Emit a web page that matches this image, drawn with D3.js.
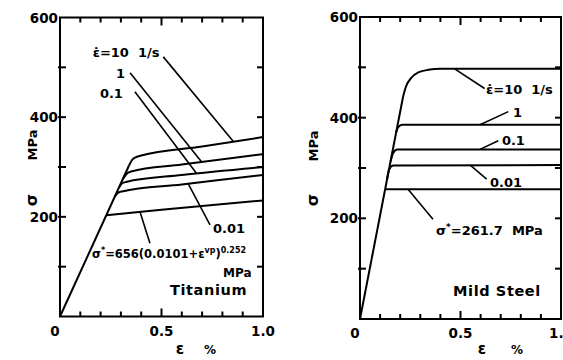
<!DOCTYPE html>
<html>
<head>
<meta charset="utf-8">
<script src="https://cdn.jsdelivr.net/npm/d3@7"></script>
<style>
	body { margin: 0; background: #fff; }
	svg text { font-family: 'DejaVu Sans', sans-serif; font-weight: bold; fill: #000; }
</style>
</head>
<body>
<svg id="chart" width="563" height="360"></svg>
<script>
// strain in %, stress in MPa
const strainTicks = [0, 0.5, 1.0];
const strainTickLabels = ['0', '0.5', '1.0'];
const minorStrain = [0.1, 0.2, 0.3, 0.4, 0.6, 0.7, 0.8, 0.9];
const stressTicks = [100, 200, 300, 400, 500];
const stressLabels = [200, 400, 600];

// Titanium
const tiElastic = [[0, 0], [0.34, 303]];
const tiStatic = [[0.228, 203], [0.5, 214], [1.0, 233]];
const ti001 = [[0.271, 241], [0.285, 248], [0.305, 251], [0.6, 265], [1.0, 284]];
const ti01 = [[0.292, 260], [0.305, 267], [0.325, 270], [0.6, 284], [1.0, 300]];
const ti1 = [[0.31, 276], [0.325, 285], [0.35, 291], [0.6, 305], [1.0, 326]];
const ti10 = [[0.34, 303], [0.355, 314], [0.375, 320], [0.4, 323], [0.7, 341], [1.0, 360]];

// Mild steel
const msElastic = [[0, 0], [0.215, 443]];
const msStatic = [[0.124, 258], [1.0, 258]];
const ms001 = [[0.134, 276], [0.145, 297], [0.165, 305], [1.0, 306]];
const ms01 = [[0.152, 313], [0.165, 330], [0.185, 337], [1.0, 337]];
const ms1 = [[0.18, 371], [0.19, 381], [0.21, 386], [1.0, 386]];
const ms10 = [[0.215, 443], [0.23, 463], [0.255, 479], [0.29, 490], [0.34, 495], [0.4, 497], [1.0, 497]];

const rateLabels = ['1', '0.1', '0.01'];

const svg = d3.select('#chart');

// pointer layout: from point on curve, to near the label, label anchor
const tiNotes = [
	{ text: 'rate', from: [0.854, 351], to: [0.509, 521], at: [0.49, 521], anchor: 'end' },
	{ text: rateLabels[0], from: [0.698, 310], to: [0.345, 489], at: [0.32, 479], anchor: 'end' },
	{ text: rateLabels[1], from: [0.673, 287], to: [0.369, 451], at: [0.31, 439], anchor: 'end' },
	{ text: rateLabels[2], from: [0.632, 266], to: [0.739, 184], at: [0.754, 168], anchor: 'start' },
	{ text: 'tiStatic', from: [0.394, 210], to: [0.443, 147], at: [0.158, 117], anchor: 'start' }
];
const msNotes = [
	{ text: 'rate', from: [0.471, 497], to: [0.62, 458], at: [0.627, 448], anchor: 'start' },
	{ text: rateLabels[0], from: [0.597, 386], to: [0.738, 412], at: [0.761, 401], anchor: 'start' },
	{ text: rateLabels[1], from: [0.597, 337], to: [0.688, 354], at: [0.706, 346], anchor: 'start' },
	{ text: rateLabels[2], from: [0.547, 306], to: [0.63, 278], at: [0.647, 262], anchor: 'start' },
	{ text: 'msStatic', from: [0.239, 258], to: [0.363, 198], at: [0.378, 167], anchor: 'start' }
];

const panels = [
	{
		x: d3.scaleLinear().domain([0, 1]).range([60, 263]),
		y: d3.scaleLinear().domain([0, 600]).range([316.5, 17.5]),
		elastic: tiElastic, curves: [tiStatic, ti001, ti01, ti1, ti10],
		notes: tiNotes, name: 'Titanium', nameAt: [0.542, 43],
		sigmaY: 200, mpaY: 145, labelX: 32, epsX: 180, pctX: 210
	},
	{
		x: d3.scaleLinear().domain([0, 1]).range([360, 561]),
		y: d3.scaleLinear().domain([0, 600]).range([319, 17]),
		elastic: msElastic, curves: [msStatic, ms001, ms01, ms1, ms10],
		notes: msNotes, name: 'Mild Steel', nameAt: [0.463, 46],
		sigmaY: 200, mpaY: 146, labelX: 313, epsX: 482, pctX: 517
	}
];

const writeNote = (t, key) => {
	if (key === 'rate') {
		t.text('\u03b5\u0307=10\u00a0\u00a01/s');
	} else if (key === 'tiStatic') {
		t.style('font-size', '11.5px');
		t.append('tspan').text('\u03c3');
		t.append('tspan').attr('dy', -5).style('font-size', '8px').text('*');
		t.append('tspan').attr('dy', 5).text('=656(0.0101+\u03b5');
		t.append('tspan').attr('dy', -5).style('font-size', '8px').text('vp');
		t.append('tspan').attr('dy', 5).text(')');
		t.append('tspan').attr('dy', -5).style('font-size', '8px').text('0.252');
	} else if (key === 'msStatic') {
		t.append('tspan').text('\u03c3');
		t.append('tspan').attr('dy', -5).style('font-size', '9px').text('*');
		t.append('tspan').attr('dy', 5).text('=261.7\u00a0 MPa');
	} else {
		t.text(key);
	}
};

panels.forEach(p => {
	const g = svg.append('g');
	const sx = p.x, sy = p.y;
	const x0 = sx(0), x1 = sx(1), y0 = sy(0), y1 = sy(600);

	// frame
	g.append('rect')
		.attr('x', x0).attr('y', y1)
		.attr('width', x1 - x0).attr('height', y0 - y1)
		.attr('fill', 'none').attr('stroke', '#000').attr('stroke-width', 2);

	// tick marks, all pointing inward
	const ticks = [];
	minorStrain.forEach(v => {
		ticks.push([sx(v), y0, sx(v), y0 - 5]);
		ticks.push([sx(v), y1, sx(v), y1 + 5]);
	});
	ticks.push([sx(0.5), y0, sx(0.5), y0 - 8]);
	ticks.push([sx(0.5), y1, sx(0.5), y1 + 8]);
	stressTicks.forEach(v => {
		ticks.push([x0 - 2, sy(v), x0 + 6, sy(v)]);
		ticks.push([x1 + 1, sy(v), x1 - 6, sy(v)]);
	});
	ticks.forEach(t => {
		g.append('line')
			.attr('x1', t[0]).attr('y1', t[1]).attr('x2', t[2]).attr('y2', t[3])
			.style('stroke', '#000').style('stroke-width', '2px');
	});

	// tick labels
	strainTicks.forEach((d, i) => {
		g.append('text')
			.attr('x', sx(d) - (i === 0 ? 5 : 0))
			.attr('y', y0 + 19)
			.attr('text-anchor', 'middle')
			.style('font-size', '13.5px')
			.text(strainTickLabels[i]);
	});
	stressLabels.forEach(d => {
		g.append('text')
			.attr('x', x0 - 2)
			.attr('y', sy(d) + 5)
			.attr('text-anchor', 'end')
			.style('font-size', '13.5px')
			.text(d);
	});

	// axis titles
	g.append('text').attr('transform', `translate(${p.labelX + 5},${p.sigmaY}) rotate(-90)`)
		.attr('text-anchor', 'middle').style('font-size', '16px').text('\u03c3');
	g.append('text').attr('transform', `translate(${p.labelX + 5},${p.mpaY}) rotate(-90)`)
		.attr('text-anchor', 'middle').style('font-size', '13px').text('MPa');
	g.append('text').attr('x', p.epsX).attr('y', 354)
		.attr('text-anchor', 'middle').style('font-size', '15px').text('\u03b5');
	g.append('text').attr('x', p.pctX).attr('y', 354)
		.attr('text-anchor', 'middle').style('font-size', '12px').text('%');

	// curves
	const line = d3.line().x(d => sx(d[0])).y(d => sy(d[1]));
	const smooth = d3.line().x(d => sx(d[0])).y(d => sy(d[1])).curve(d3.curveMonotoneX);
	g.append('path').datum(p.elastic)
		.attr('d', line)
		.attr('fill', 'none').attr('stroke', '#000').attr('stroke-width', 2);
	p.curves.forEach(c => {
		g.append('path').datum(c)
			.attr('d', smooth)
			.attr('fill', 'none').attr('stroke', '#000').attr('stroke-width', 2);
	});

	// pointers and labels
	p.notes.forEach(n => {
		g.append('line')
			.attr('x1', sx(n.from[0])).attr('y1', sy(n.from[1]))
			.attr('x2', sx(n.to[0])).attr('y2', sy(n.to[1]))
			.attr('stroke', '#000').attr('stroke-width', 1.6);
		const t = g.append('text')
			.attr('x', sx(n.at[0])).attr('y', sy(n.at[1]))
			.attr('text-anchor', n.anchor)
			.style('font-size', '13px');
		writeNote(t, n.text);
	});

	if (p.name === 'Titanium') {
		g.append('text').attr('x', sx(0.803)).attr('y', sy(79))
			.style('font-size', '12px').text('MPa');
	}
	g.append('text').attr('x', sx(p.nameAt[0])).attr('y', sy(p.nameAt[1]))
		.style('font-size', '14.5px').style('letter-spacing', '0.6px').text(p.name);
});
</script>
</body>
</html>
